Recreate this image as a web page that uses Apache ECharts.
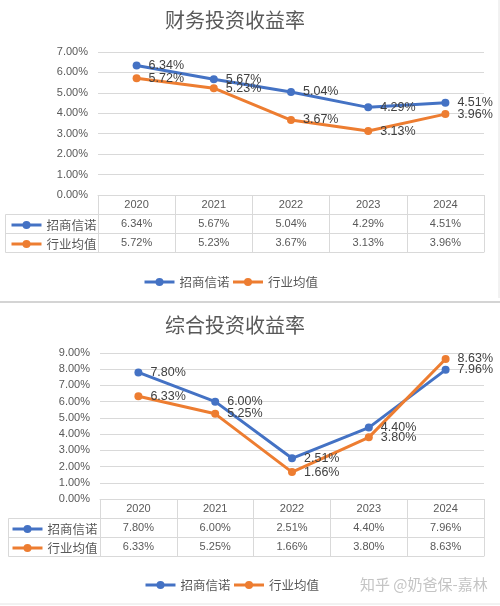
<!DOCTYPE html>
<html><head><meta charset="utf-8">
<script src="https://cdn.jsdelivr.net/npm/echarts@6/dist/echarts.min.js"></script>
<style>html,body{margin:0;padding:0;background:#fff}#c{width:500px;height:606px}</style>
</head><body><div id="c"></div>
<script>
const years = ['2020','2021','2022','2023','2024'];
const seriesNames = ['招商信诺','行业均值'];
const title1 = '财务投资收益率';
const fin_cmb = [6.34, 5.67, 5.04, 4.29, 4.51];
const fin_ind = [5.72, 5.23, 3.67, 3.13, 3.96];
const title2 = '综合投资收益率';
const tot_cmb = [7.80, 6.00, 2.51, 4.40, 7.96];
const tot_ind = [6.33, 5.25, 1.66, 3.80, 8.63];
const yMax1 = 7, yMax2 = 9;
const watermark = '知乎 @奶爸保-嘉林';

const BLUE = '#4472C4', ORANGE = '#ED7D31', GRID = '#d9d9d9', TXT = '#595959';
const FONT = '"Liberation Sans","Noto Sans CJK SC",sans-serif';
const pct = v => v.toFixed(2) + '%';

function tableAxes(gridIndex, rows) {
  const axes = [];
  const off = [0, 19, 38, 57];
  for (let r = 0; r < 4; r++) {
    const arr = rows[r];
    axes.push({
      type: 'category', gridIndex, data: years, position: 'bottom', offset: off[r],
      axisLine: { show: true, lineStyle: { color: GRID, width: 1 } },
      axisTick: { show: r === 0, interval: 0, length: 57, lineStyle: { color: GRID } },
      axisLabel: {
        show: r < 3, interval: 0, margin: 4, color: TXT, fontSize: 11, fontFamily: FONT,
        formatter: (v, i) => r === 0 ? v : pct(arr[i])
      },
      splitLine: { show: false }
    });
  }
  return axes;
}

function lineSeries(name, data, color, xi, yi) {
  return {
    name, type: 'line', data, xAxisIndex: xi, yAxisIndex: yi,
    symbol: 'circle', symbolSize: 8,
    lineStyle: { color, width: 3 }, itemStyle: { color },
    label: { show: true, position: 'right', distance: 8, color: '#404040', fontSize: 12.5, fontFamily: FONT,
      formatter: p => pct(p.value) },
    z: 3
  };
}

function legendAt(names, left, top, gap) {
  return {
    data: names, left, top, padding: 0, orient: 'horizontal', itemWidth: 30, itemHeight: 10, itemGap: gap,
    lineStyle: { width: 3 },
    textStyle: { color: TXT, fontSize: 12.5, fontFamily: '"Noto Sans CJK SC",sans-serif', lineHeight: 14 },
    selectedMode: false
  };
}

const chart = echarts.init(document.getElementById('c'), null, { renderer: 'canvas' });
const option = {
  animation: false,
  backgroundColor: '#fff',
  title: [
    { text: title1, left: 230, textAlign: 'center', top: 5,
      textStyle: { fontSize: 20, fontWeight: 'normal', color: TXT, fontFamily: '"Noto Sans CJK SC",sans-serif' } },
    { text: title2, left: 230, textAlign: 'center', top: 310,
      textStyle: { fontSize: 20, fontWeight: 'normal', color: TXT, fontFamily: '"Noto Sans CJK SC",sans-serif' } }
  ],
  grid: [
    { left: 98, right: 16, top: 52, height: 143 },
    { left: 100, right: 16, top: 353, height: 146 }
  ],
  xAxis: [
    ...tableAxes(0, [null, fin_cmb, fin_ind, null]),
    ...tableAxes(1, [null, tot_cmb, tot_ind, null])
  ],
  yAxis: [
    { type: 'value', gridIndex: 0, min: 0, max: yMax1, interval: 1,
      axisLine: { show: false }, axisTick: { show: false },
      axisLabel: { formatter: pct, color: TXT, fontSize: 11, fontFamily: FONT, margin: 10 },
      splitLine: { lineStyle: { color: GRID } } },
    { type: 'value', gridIndex: 1, min: 0, max: yMax2, interval: 1,
      axisLine: { show: false }, axisTick: { show: false },
      axisLabel: { formatter: pct, color: TXT, fontSize: 11, fontFamily: FONT, margin: 10 },
      splitLine: { lineStyle: { color: GRID } } }
  ],
  legend: [
    legendAt([seriesNames[0]], 10, 218, 2),
    legendAt([seriesNames[1]], 10, 237, 2),
    legendAt(seriesNames, 143, 275, 2),
    legendAt([seriesNames[0]], 11, 522, 2),
    legendAt([seriesNames[1]], 11, 541, 2),
    legendAt(seriesNames, 144, 578, 2)
  ],
  series: [
    lineSeries(seriesNames[0], fin_cmb, BLUE, 0, 0),
    lineSeries(seriesNames[1], fin_ind, ORANGE, 0, 0),
    lineSeries(seriesNames[0], tot_cmb, BLUE, 4, 1),
    lineSeries(seriesNames[1], tot_ind, ORANGE, 4, 1)
  ],
  graphic: [
    { type: 'polyline', shape: { points: [[98, 214.5], [5.5, 214.5], [5.5, 252.5], [98, 252.5]] }, style: { stroke: GRID, fill: null, lineWidth: 1 } },
    { type: 'line', shape: { x1: 5.5, y1: 233.5, x2: 98, y2: 233.5 }, style: { stroke: GRID, lineWidth: 1 } },
    { type: 'polyline', shape: { points: [[100, 518.5], [8.5, 518.5], [8.5, 556.5], [100, 556.5]] }, style: { stroke: GRID, fill: null, lineWidth: 1 } },
    { type: 'line', shape: { x1: 8.5, y1: 537.5, x2: 100, y2: 537.5 }, style: { stroke: GRID, lineWidth: 1 } },
    { type: 'line', shape: { x1: 0, y1: 302, x2: 500, y2: 302 }, style: { stroke: '#d4d4d4', lineWidth: 2 } },
    { type: 'line', shape: { x1: 499, y1: 0, x2: 499, y2: 298 }, style: { stroke: '#e4e4e4', lineWidth: 1 } },
    { type: 'line', shape: { x1: 0, y1: 604, x2: 500, y2: 604 }, style: { stroke: '#e4e4e4', lineWidth: 1 } },
    { type: 'text', left: 360, top: 577, style: { text: watermark, fill: '#c4c4c4', fontSize: 15, fontFamily: '"Noto Sans CJK SC",sans-serif' } }
  ]
};
chart.setOption(option);
</script>
</body></html>
